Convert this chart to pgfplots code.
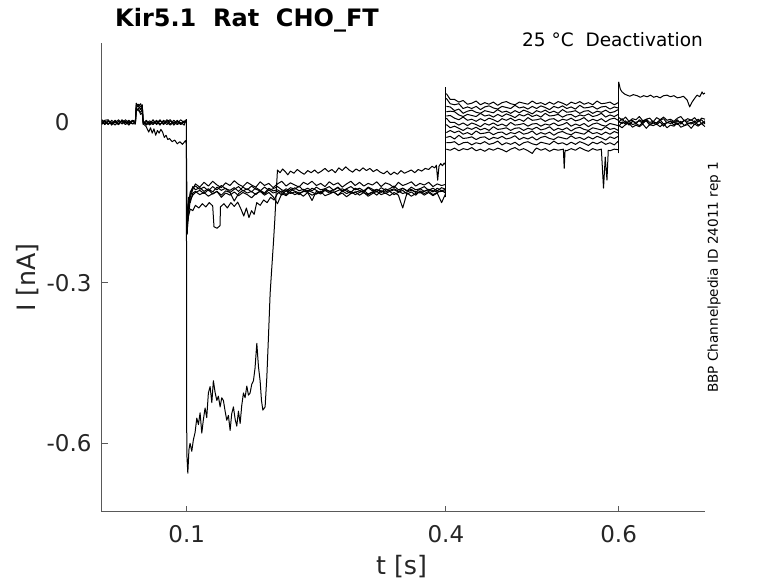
\documentclass[border=0pt]{standalone}
\usepackage{fontspec}
\setmainfont{DejaVu Sans}
\usepackage{pgfplots}
\usepackage{pgfplotstable}
\pgfplotsset{compat=1.18}

% currents in pA (thousandths of nA), time in s
\pgfplotstableread{
t a b c d
0.0015 3 -2 5 -4
0.005 -4 3 1 4
0.009 2 -4 -3 5
0.013 -3 4 1 -5
0.017 4 -1 -5 2
0.021 -2 5 2 -4
0.025 3 -3 -2 5
0.029 -4 2 5 -1
0.033 2 -5 -1 4
0.037 -3 3 4 -2
0.0405 1 -1 2 -3
0.0415 32 26 36 20
0.044 34 22 30 27
0.0465 29 19 35 15
0.0485 33 25 28 18
0.0495 1 -2 3 -4
0.053 -3 4 -5 2
0.057 3 -3 0 -5
0.061 -2 5 -4 1
0.065 4 -4 2 -2
0.069 -3 3 -5 5
0.073 2 -2 4 -4
0.077 -4 5 0 2
0.081 3 -3 -5 5
0.085 -2 4 1 -5
0.089 4 -2 -4 2
0.093 -3 5 0 -4
0.097 3 -1 -5 1
0.0995 1 4 6 3
}\segA

\pgfplotstableread{
t y1 y2 y3 y4 y5
0.1005 -190 -210 -170 -200 -180
0.102 -160 -150 -140 -175 -155
0.104 -140 -135 -150 -145 -130
0.107 -125 -120 -132 -136 -122
0.110 -115 -126 -129 -131 -119
0.115 -121 -122 -135 -127 -125
0.120 -112 -129 -131 -133 -121
0.125 -119 -124 -138 -126 -128
0.130 -110 -130 -133 -134 -120
0.135 -117 -121 -129 -129 -126
0.140 -122 -127 -140 -136 -118
0.145 -113 -123 -132 -128 -124
0.150 -118 -131 -136 -131 -127
0.155 -109 -125 -130 -147 -122
0.160 -116 -120 -137 -133 -129
0.165 -120 -128 -131 -127 -121
0.170 -112 -124 -135 -132 -126
0.175 -117 -130 -141 -129 -119
0.180 -121 -122 -133 -135 -125
0.185 -111 -127 -129 -128 -128
0.190 -118 -132 -136 -134 -121
0.195 -114 -123 -131 -126 -127
0.200 -122 -128 -139 -132 -124
0.205 -115 -126 -152 -129 -120
0.210 -110 -131 -133 -136 -126
0.215 -119 -124 -137 -127 -129
0.220 -113 -129 -130 -133 -122
0.225 -117 -122 -135 -130 -125
0.230 -121 -128 -132 -135 -119
0.235 -112 -125 -138 -128 -127
0.240 -116 -130 -131 -131 -123
0.245 -110 -123 -136 -146 -128
0.250 -118 -127 -133 -129 -121
0.255 -114 -132 -129 -134 -126
0.260 -120 -124 -137 -127 -124
0.265 -111 -129 -134 -132 -120
0.270 -117 -126 -130 -130 -127
0.275 -113 -121 -136 -136 -122
0.280 -121 -128 -132 -128 -129
0.285 -115 -125 -139 -133 -124
0.290 -110 -131 -133 -129 -120
0.295 -118 -123 -130 -135 -126
0.300 -112 -127 -136 -131 -123
0.305 -119 -130 -131 -127 -128
0.310 -114 -122 -138 -134 -121
0.315 -117 -128 -133 -130 -125
0.320 -111 -125 -129 -136 -130
0.325 -120 -131 -135 -128 -122
0.330 -113 -124 -132 -133 -127
0.335 -116 -129 -137 -129 -124
0.340 -122 -126 -131 -135 -119
0.345 -112 -130 -136 -131 -126
0.350 -118 -123 -160 -127 -123
0.355 -115 -128 -132 -134 -128
0.360 -111 -125 -138 -130 -121
0.365 -119 -131 -133 -136 -126
0.370 -114 -124 -130 -128 -124
0.375 -117 -129 -136 -133 -120
0.380 -112 -126 -131 -129 -127
0.385 -120 -130 -137 -135 -123
0.390 -115 -123 -132 -131 -128
0.395 -118 -128 -150 -127 -122
0.3995 -116 -125 -134 -132 -125
}\segB

\pgfplotstableread{
t k0 k1 k2 k3 k4 k5 k6 k7 k8 k9
0.4005 54 45 30 20 12 8 -4 -19 -28 -38
0.405 43 35 29 21 13 0 -10 -15 -26 -38
0.41 43 33 22 20 8 0 -7 -19 -31 -36
0.415 38 35 25 14 5 -5 -11 -16 -24 -42
0.42 41 26 17 11 10 -1 -15 -22 -30 -38
0.425 34 29 21 15 4 -6 -10 -19 -29 -37
0.43 36 26 23 13 6 -1 -13 -23 -27 -42
0.435 40 30 19 11 2 -4 -9 -16 -32 -38
0.44 33 24 17 17 7 -8 -14 -21 -28 -40
0.445 37 29 22 12 3 -2 -11 -20 -27 -36
0.45 34 31 20 14 8 -5 -15 -18 -32 -41
0.455 38 27 18 10 5 -1 -8 -23 -28 -39
0.46 32 25 24 15 1 -6 -13 -19 -30 -35
0.465 37 30 19 11 7 -3 -12 -18 -26 -42
0.47 39 28 21 16 4 -7 -10 -23 -31 -38
0.475 35 26 17 13 8 0 -15 -19 -29 -41
0.48 33 32 22 9 3 -5 -11 -21 -25 -37
0.485 38 27 18 15 6 -4 -10 -17 -32 -43
0.49 36 29 23 12 2 -2 -15 -22 -28 -38
0.495 34 25 20 16 9 -7 -11 -20 -31 -36
0.5 40 30 16 11 4 -3 -13 -16 -27 -40
0.505 35 26 22 14 5 -2 -9 -23 -33 -42
0.51 37 31 19 10 7 -7 -14 -19 -28 -37
0.515 33 28 23 17 2 -3 -12 -22 -26 -39
0.52 38 24 18 12 6 -5 -8 -18 -30 -41
0.525 34 30 21 13 7 -1 -15 -24 -32 -35
0.53 39 27 17 15 2 -6 -11 -19 -27 -40
0.535 36 31 24 10 6 -4 -14 -17 -29 -38
0.54 32 26 19 14 4 0 -10 -21 -31 -42
0.545 38 29 20 15 8 -7 -16 -23 -25 -37
0.55 35 25 22 10 3 -3 -11 -18 -30 -41
0.555 39 32 17 14 5 -6 -9 -20 -28 -36
0.56 34 27 21 12 9 -2 -13 -22 -32 -39
0.565 37 28 22 16 2 -8 -15 -16 -27 -43
0.57 33 30 17 11 6 -3 -10 -21 -31 -37
0.575 40 25 21 13 3 -1 -12 -19 -26 -40
0.58 35 29 19 17 7 -5 -14 -23 -29 -36
0.585 36 30 23 10 1 -7 -8 -18 -33 -41
0.59 38 25 18 14 6 -2 -13 -22 -27 -38
0.595 33 29 20 11 8 -4 -11 -17 -30 -42
0.5995 37 27 24 15 4 -6 -15 -20 -26 -35
}\segC

\pgfplotstableread{
t m0 m1 m2 m3 m4
0.6005 9 1 -7 -6 1
0.604 4 7 1 -10 -2
0.608 10 -1 -3 -4 3
0.612 2 2 2 -1 -5
0.616 7 4 -4 -9 2
0.62 5 -3 -2 -5 0
0.624 11 5 -6 -8 3
0.628 3 1 0 -3 -2
0.632 6 6 3 -11 4
0.636 8 0 -5 -4 -4
0.64 1 2 -1 -6 1
0.644 9 -2 -4 -3 -1
0.648 5 4 1 -8 5
0.652 10 7 -7 -2 -3
0.656 4 -1 0 -10 0
0.66 6 3 -2 -5 2
0.664 2 0 1 -7 -5
0.668 8 5 -4 -1 3
0.672 11 -3 2 -9 -1
0.676 3 4 -6 -6 4
0.68 7 2 -1 -4 -2
0.684 4 5 -3 -11 0
0.688 9 0 3 -3 -4
0.692 1 6 -5 -7 2
0.696 8 -2 -2 -2 5
0.7 6 3 0 -8 -3
}\segD

\pgfplotsset{tr/.style={black, line width=1.0bp, mark=none, line join=round}}

\begin{document}
\begin{tikzpicture}
\path[use as bounding box] (0bp,0bp) rectangle (778bp,583bp);
\begin{axis}[
  at={(101.7bp,71.3bp)}, anchor=south west,
  scale only axis, width=603.3bp, height=468.4bp,
  xmin=0.0015, xmax=0.7, ymin=-728, ymax=148,
  axis x line*=bottom, axis y line*=left,
  axis line style={black!65, line width=0.8bp},
  tick style={black!65, line width=0.8bp},
  tick align=inside, major tick length=6bp,
  xtick={0.1,0.4,0.6}, xticklabels={0.1,0.4,0.6},
  ytick={-600,-300,0}, yticklabels={-0.6,-0.3,0\phantom{.0}},
  ticklabel style={font=\fontsize{23bp}{27bp}\selectfont, text=black!85},
  xticklabel style={inner sep=0pt, anchor=north, yshift=-14bp},
  yticklabel style={inner sep=0pt, anchor=east, xshift=-10bp},
  minor tick num=0,
]
% baseline segment
\pgfplotsinvokeforeach{a,b,c,d}{\addplot[tr] table[x=t,y=#1]{\segA};}
% step lines
\addplot[tr] coordinates {(0.1,6) (0.1,-215)};
\addplot[tr] coordinates {(0.4,-140) (0.4,66)};
\addplot[tr] coordinates {(0.6,-58) (0.6,76)};
% test pulse segment
\pgfplotsinvokeforeach{y1,y2,y3,y4,y5}{\addplot[tr] table[x=t,y=#1]{\segB};}
% deactivation steps
\pgfplotsinvokeforeach{k0,k1,k2,k3,k4,k5,k6,k7,k8,k9}{\addplot[tr] table[x=t,y=#1]{\segC};}
% tail
\pgfplotsinvokeforeach{m0,m1,m2,m3,m4}{\addplot[tr] table[x=t,y=#1]{\segD};}
% bottom deactivation trace with spikes
\addplot[tr] coordinates {(0.4005,-50) (0.405,-52) (0.41,-48) (0.415,-53) (0.42,-49) (0.425,-51) (0.43,-47) (0.435,-53) (0.44,-50) (0.445,-54) (0.45,-49) (0.455,-52) (0.46,-48) (0.465,-51) (0.47,-55) (0.475,-50) (0.48,-47) (0.485,-52) (0.49,-49) (0.495,-53) (0.5,-58) (0.503,-51) (0.505,-48) (0.51,-52) (0.515,-49) (0.52,-54) (0.525,-50) (0.53,-52) (0.536,-50) (0.537,-86) (0.538,-52) (0.54,-53) (0.545,-49) (0.55,-52) (0.555,-47) (0.56,-51) (0.565,-54) (0.57,-49) (0.575,-52) (0.58,-50) (0.5825,-123) (0.5845,-65) (0.5865,-108) (0.588,-52) (0.59,-53) (0.595,-50) (0.5995,-51)};
% trace B
\addplot[tr] coordinates {(0.0015,1) (0.005,-3) (0.009,4) (0.013,-2) (0.017,2) (0.021,-4) (0.025,4) (0.029,0) (0.033,-3) (0.037,3) (0.0405,-2) (0.0415,28) (0.044,31) (0.0465,24) (0.0485,30) (0.0495,0) (0.05,-3) (0.053,-8) (0.056,-18) (0.058,-10) (0.060,-20) (0.062,-12) (0.064,-24) (0.066,-15) (0.068,-20) (0.070,-13) (0.072,-18) (0.074,-28) (0.076,-24) (0.078,-32) (0.080,-30) (0.083,-36) (0.086,-33) (0.089,-40) (0.092,-36) (0.095,-41) (0.0985,-34) (0.0995,-40) (0.1005,-190) (0.102,-175) (0.104,-162) (0.107,-165) (0.110,-155) (0.114,-160) (0.118,-152) (0.122,-158) (0.126,-150) (0.130,-156) (0.1315,-195) (0.135,-198) (0.1385,-193) (0.139,-158) (0.143,-152) (0.147,-160) (0.151,-150) (0.155,-157) (0.159,-149) (0.163,-163) (0.166,-175) (0.169,-160) (0.172,-178) (0.175,-165) (0.178,-172) (0.181,-150) (0.185,-155) (0.189,-145) (0.193,-150) (0.197,-140) (0.201,-145) (0.205,-133) (0.21,-128) (0.215,-135) (0.22,-125) (0.23,-132) (0.24,-127) (0.25,-134) (0.26,-126) (0.27,-131) (0.28,-124) (0.29,-133) (0.30,-128) (0.31,-135) (0.32,-126) (0.33,-130) (0.34,-124) (0.35,-133) (0.36,-127) (0.37,-132) (0.38,-125) (0.39,-130) (0.3995,-128)};
% trace A (large current)
\addplot[tr] coordinates {(0.0995,2) (0.1,-618) (0.1012,-656) (0.1025,-612) (0.1038,-600) (0.1058,-615) (0.1076,-594) (0.1096,-580) (0.1116,-553) (0.1135,-565) (0.1154,-543) (0.1174,-581) (0.1192,-556) (0.1212,-534) (0.1231,-552) (0.125,-506) (0.127,-494) (0.129,-524) (0.1308,-483) (0.1328,-505) (0.1348,-520) (0.1366,-512) (0.1386,-532) (0.1405,-515) (0.1424,-520) (0.1444,-540) (0.1463,-557) (0.1482,-548) (0.1502,-576) (0.152,-545) (0.154,-532) (0.156,-555) (0.1579,-568) (0.1598,-540) (0.1618,-563) (0.1636,-530) (0.1656,-506) (0.1675,-515) (0.1695,-493) (0.1714,-510) (0.1733,-506) (0.1752,-490) (0.1772,-483) (0.179,-460) (0.1811,-413) (0.183,-457) (0.1849,-483) (0.1865,-520) (0.1881,-538) (0.1907,-532) (0.1927,-476) (0.1946,-400) (0.1965,-320) (0.1985,-270) (0.2003,-226) (0.202,-180) (0.2035,-132) (0.205,-89) (0.208,-94) (0.211,-87) (0.214,-92) (0.217,-98) (0.22,-91) (0.224,-95) (0.228,-88) (0.232,-93) (0.236,-97) (0.24,-90) (0.244,-94) (0.248,-89) (0.252,-95) (0.256,-91) (0.26,-86) (0.264,-92) (0.268,-88) (0.272,-94) (0.276,-85) (0.28,-90) (0.284,-83) (0.288,-89) (0.292,-93) (0.296,-87) (0.30,-91) (0.304,-85) (0.308,-90) (0.312,-86) (0.316,-92) (0.32,-88) (0.324,-93) (0.328,-96) (0.332,-91) (0.336,-98) (0.34,-93) (0.344,-97) (0.348,-90) (0.352,-95) (0.356,-92) (0.36,-89) (0.364,-94) (0.368,-88) (0.372,-91) (0.376,-86) (0.38,-88) (0.384,-82) (0.387,-85) (0.389,-80) (0.3905,-108) (0.392,-82) (0.394,-77) (0.396,-81) (0.398,-76) (0.3995,-79)};
% trace C (tail stays up)
\addplot[tr] coordinates {(0.6,76) (0.602,62) (0.604,57) (0.607,53) (0.6097,51) (0.613,49) (0.617,52) (0.6213,50) (0.625,47) (0.629,50) (0.633,48) (0.637,51) (0.6406,47) (0.644,49) (0.648,46) (0.652,50) (0.6561,51) (0.66,48) (0.664,50) (0.668,46) (0.6715,47) (0.675,49) (0.6793,42) (0.6823,29) (0.685,38) (0.688,45) (0.6908,51) (0.694,48) (0.6966,57) (0.698,53) (0.7,55)};
\end{axis}
\node[anchor=base west, inner sep=0pt, font=\bfseries\fontsize{24bp}{28bp}\selectfont] at (115bp,556.3bp) {Kir5.1\ \ Rat\ \ CHO\_FT};
\node[anchor=base east, inner sep=0pt, font=\fontsize{18.5bp}{22bp}\selectfont] at (703bp,536.3bp) {25 °C\ \ Deactivation};
\node[rotate=90, inner sep=0pt, font=\fontsize{13.6bp}{16bp}\selectfont] at (714bp,305.7bp) {BBP Channelpedia ID 24011 rep 1};
\node[rotate=90, inner sep=0pt, text=black!85, font=\fontsize{25.3bp}{30bp}\selectfont] at (27.5bp,305.5bp) {I [nA]};
\node[inner sep=0pt, text=black!85, font=\fontsize{25.3bp}{30bp}\selectfont] at (401.5bp,16.5bp) {t [s]};
\end{tikzpicture}
\end{document}
